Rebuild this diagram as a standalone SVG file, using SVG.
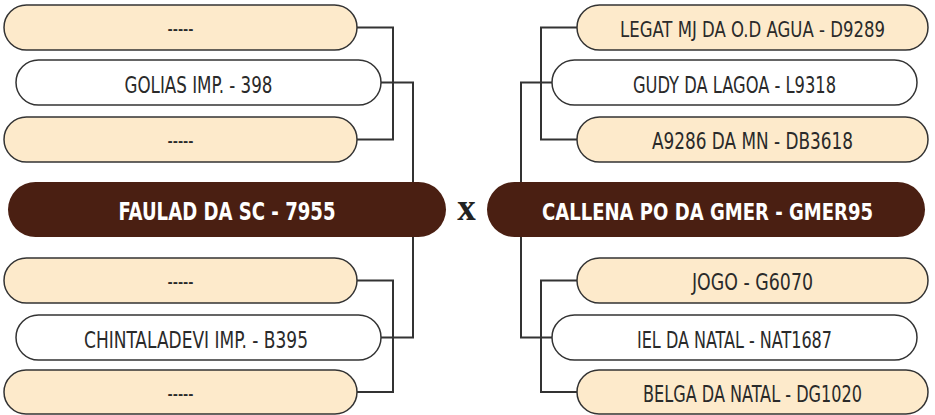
<svg xmlns="http://www.w3.org/2000/svg" width="935" height="415" viewBox="0 0 935 415">
<style>
.tan{fill:#FDEACB;stroke:#333;stroke-width:1.5}
.wht{fill:#FFFFFF;stroke:#333;stroke-width:1.5}
.main{fill:#4A1F12}
.t{font-family:"Liberation Sans Narrow","DejaVu Sans Condensed","Liberation Sans",sans-serif;font-size:23px;fill:#2a2a2a;text-anchor:middle}
.tb{font-family:"Liberation Sans Narrow","DejaVu Sans Condensed","Liberation Sans",sans-serif;font-size:25px;font-weight:bold;fill:#FFFFFF;text-anchor:middle}
.c{fill:none;stroke:#333;stroke-width:2}
</style>
<g id="connectors">
<path class="c" d="M357,27.5 H393 V139.5 H357"/>
<path class="c" d="M381,82.5 H413 V337.5 H381"/>
<path class="c" d="M357,280.5 H393 V392 H357"/>
<path class="c" d="M577,27.5 H541 V139.5 H577"/>
<path class="c" d="M552,82.5 H521 V337.5 H552"/>
<path class="c" d="M577,280.5 H541 V392 H577"/>
</g>
<g id="l1"><rect class="tan" x="4" y="5" width="353" height="45" rx="22.5"/><text class="t" x="180.5" y="36" textLength="26" lengthAdjust="spacingAndGlyphs">-----</text></g>
<g id="l2"><rect class="wht" x="16" y="60" width="365" height="45" rx="22.5"/><text class="t" x="198.5" y="93" textLength="148" lengthAdjust="spacingAndGlyphs">GOLIAS IMP. - 398</text></g>
<g id="l3"><rect class="tan" x="4" y="117" width="353" height="45" rx="22.5"/><text class="t" x="180.5" y="148" textLength="26" lengthAdjust="spacingAndGlyphs">-----</text></g>
<g id="mainL"><rect class="main" x="8" y="182" width="438" height="55" rx="27.5"/><text class="tb" x="227" y="220" textLength="217" lengthAdjust="spacingAndGlyphs">FAULAD DA SC - 7955</text></g>
<g id="l4"><rect class="tan" x="4" y="258" width="353" height="45" rx="22.5"/><text class="t" x="180.5" y="289" textLength="26" lengthAdjust="spacingAndGlyphs">-----</text></g>
<g id="l5"><rect class="wht" x="16" y="315" width="365" height="45" rx="22.5"/><text class="t" x="196" y="348" textLength="224" lengthAdjust="spacingAndGlyphs">CHINTALADEVI IMP. - B395</text></g>
<g id="l6"><rect class="tan" x="4" y="370" width="353" height="44" rx="22"/><text class="t" x="180.5" y="401" textLength="26" lengthAdjust="spacingAndGlyphs">-----</text></g>
<g id="vs"><text x="466.5" y="220" font-family="Liberation Serif, serif" font-weight="bold" font-size="37" fill="#222" text-anchor="middle">x</text></g>
<g id="r1"><rect class="tan" x="577" y="5" width="351" height="45" rx="22.5"/><text class="t" x="752.5" y="37" font-size="21" style="font-size:21px" textLength="265" lengthAdjust="spacingAndGlyphs">LEGAT MJ DA O.D AGUA - D9289</text></g>
<g id="r2"><rect class="wht" x="552" y="60" width="365" height="45" rx="22.5"/><text class="t" x="734.5" y="93" textLength="203" lengthAdjust="spacingAndGlyphs">GUDY DA LAGOA - L9318</text></g>
<g id="r3"><rect class="tan" x="577" y="117" width="351" height="45" rx="22.5"/><text class="t" x="752.5" y="149" textLength="201" lengthAdjust="spacingAndGlyphs">A9286 DA MN - DB3618</text></g>
<g id="mainR"><rect class="main" x="487" y="182" width="438" height="55" rx="27.5"/><text class="tb" x="707.5" y="220" style="font-size:23px" textLength="331" lengthAdjust="spacingAndGlyphs">CALLENA PO DA GMER - GMER95</text></g>
<g id="r4"><rect class="tan" x="577" y="258" width="351" height="45" rx="22.5"/><text class="t" x="752.5" y="290" textLength="121" lengthAdjust="spacingAndGlyphs">JOGO - G6070</text></g>
<g id="r5"><rect class="wht" x="552" y="315" width="365" height="45" rx="22.5"/><text class="t" x="734.5" y="348" textLength="195" lengthAdjust="spacingAndGlyphs">IEL DA NATAL - NAT1687</text></g>
<g id="r6"><rect class="tan" x="577" y="370" width="351" height="44" rx="22"/><text class="t" x="752.5" y="402" textLength="219" lengthAdjust="spacingAndGlyphs">BELGA DA NATAL - DG1020</text></g>
</svg>
